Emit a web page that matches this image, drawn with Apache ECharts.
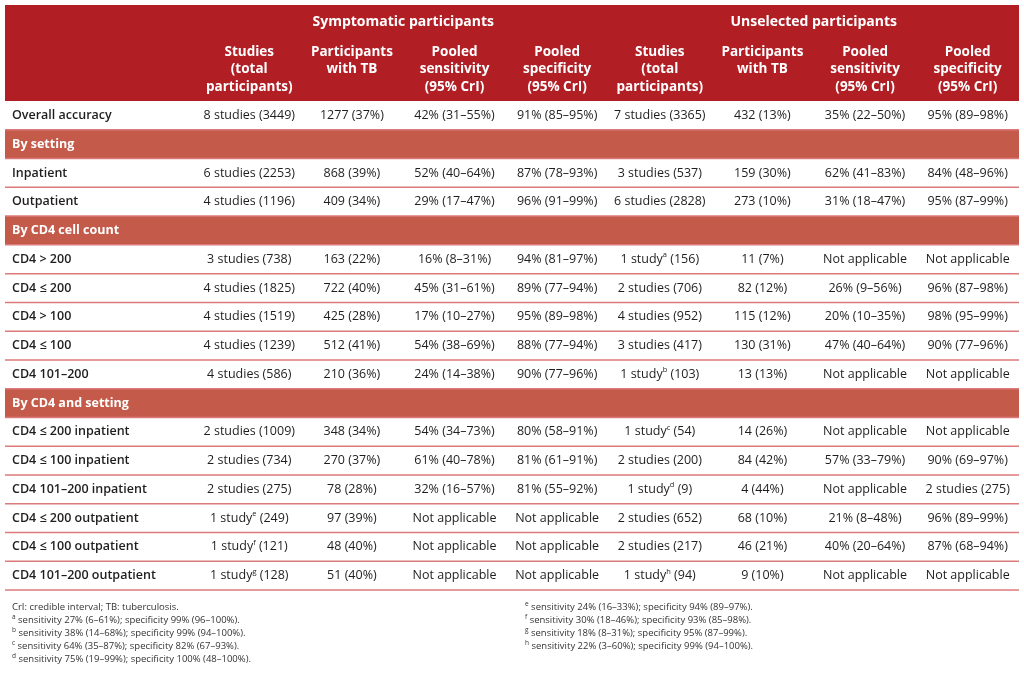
<!DOCTYPE html>
<html><head><meta charset="utf-8">
<script src="https://cdn.jsdelivr.net/npm/echarts@6/dist/echarts.min.js"></script>
<style>html,body{margin:0;padding:0;background:#fff}#c{width:1024px;height:674px}</style>
</head><body><div id="c"></div>
<script>
// ---------------- data ----------------
const groupHeaders = ['Symptomatic participants', 'Unselected participants'];
const columnHeaders = [
  'Studies\n(total\nparticipants)', 'Participants\nwith TB', 'Pooled\nsensitivity\n(95% CrI)', 'Pooled\nspecificity\n(95% CrI)',
  'Studies\n(total\nparticipants)', 'Participants\nwith TB', 'Pooled\nsensitivity\n(95% CrI)', 'Pooled\nspecificity\n(95% CrI)'
];
const rowLabels = [
  'Overall accuracy', 'By setting', 'Inpatient', 'Outpatient', 'By CD4 cell count',
  'CD4 > 200', 'CD4 ≤ 200', 'CD4 > 100', 'CD4 ≤ 100', 'CD4 101–200', 'By CD4 and setting',
  'CD4 ≤ 200 inpatient', 'CD4 ≤ 100 inpatient', 'CD4 101–200 inpatient',
  'CD4 ≤ 200 outpatient', 'CD4 ≤ 100 outpatient', 'CD4 101–200 outpatient'
];
const sectionRows = ['By setting', 'By CD4 cell count', 'By CD4 and setting'];
const NA = 'Not applicable';
const symStudies = ['8 studies (3449)', null, '6 studies (2253)', '4 studies (1196)', null, '3 studies (738)', '4 studies (1825)', '4 studies (1519)', '4 studies (1239)', '4 studies (586)', null, '2 studies (1009)', '2 studies (734)', '2 studies (275)', '1 study^e (249)', '1 study^f (121)', '1 study^g (128)'];
const symTB = ['1277 (37%)', null, '868 (39%)', '409 (34%)', null, '163 (22%)', '722 (40%)', '425 (28%)', '512 (41%)', '210 (36%)', null, '348 (34%)', '270 (37%)', '78 (28%)', '97 (39%)', '48 (40%)', '51 (40%)'];
const symSens = ['42% (31–55%)', null, '52% (40–64%)', '29% (17–47%)', null, '16% (8–31%)', '45% (31–61%)', '17% (10–27%)', '54% (38–69%)', '24% (14–38%)', null, '54% (34–73%)', '61% (40–78%)', '32% (16–57%)', NA, NA, NA];
const symSpec = ['91% (85–95%)', null, '87% (78–93%)', '96% (91–99%)', null, '94% (81–97%)', '89% (77–94%)', '95% (89–98%)', '88% (77–94%)', '90% (77–96%)', null, '80% (58–91%)', '81% (61–91%)', '81% (55–92%)', NA, NA, NA];
const unStudies = ['7 studies (3365)', null, '3 studies (537)', '6 studies (2828)', null, '1 study^a (156)', '2 studies (706)', '4 studies (952)', '3 studies (417)', '1 study^b (103)', null, '1 study^c (54)', '2 studies (200)', '1 study^d (9)', '2 studies (652)', '2 studies (217)', '1 study^h (94)'];
const unTB = ['432 (13%)', null, '159 (30%)', '273 (10%)', null, '11 (7%)', '82 (12%)', '115 (12%)', '130 (31%)', '13 (13%)', null, '14 (26%)', '84 (42%)', '4 (44%)', '68 (10%)', '46 (21%)', '9 (10%)'];
const unSens = ['35% (22–50%)', null, '62% (41–83%)', '31% (18–47%)', null, NA, '26% (9–56%)', '20% (10–35%)', '47% (40–64%)', NA, null, NA, '57% (33–79%)', NA, '21% (8–48%)', '40% (20–64%)', NA];
const unSpec = ['95% (89–98%)', null, '84% (48–96%)', '95% (87–99%)', null, NA, '96% (87–98%)', '98% (95–99%)', '90% (77–96%)', NA, null, NA, '90% (69–97%)', '2 studies (275)', '96% (89–99%)', '87% (68–94%)', NA];
const footnotesLeft = [
  'CrI: credible interval; TB: tuberculosis.',
  '^a sensitivity 27% (6–61%); specificity 99% (96–100%).',
  '^b sensitivity 38% (14–68%); specificity 99% (94–100%).',
  '^c sensitivity 64% (35–87%); specificity 82% (67–93%).',
  '^d sensitivity 75% (19–99%); specificity 100% (48–100%).'
];
const footnotesRight = [
  '^e sensitivity 24% (16–33%); specificity 94% (89–97%).',
  '^f sensitivity 30% (18–46%); specificity 93% (85–98%).',
  '^g sensitivity 18% (8–31%); specificity 95% (87–99%).',
  '^h sensitivity 22% (3–60%); specificity 99% (94–100%).'
];

// ---------------- layout / style ----------------
const FONT = "'Open Sans', 'Noto Sans', sans-serif";
const C_HEAD = '#B11F25';
const C_SECT = '#C45B4A';
const C_LINE = '#DC7A7B';
const C_TEXT = '#1E1E1E';
const FIRST_COL = 1.88;          // width of label column in column units
const N_COLS = 8;
const HEADER_H = 3.34;           // header height in row units
const N_ROWS = rowLabels.length;
const X_MAX = FIRST_COL + N_COLS;
const Y_MAX = HEADER_H + N_ROWS;
const LABEL_PAD = 7;
const GROUP_Y = 0.59;
const COLHEAD_TOP = 1.33;

const sup = s => s.replace(/\^(\w)/g, '{sup|$1}');
const columns = [symStudies, symTB, symSens, symSpec, unStudies, unTB, unSens, unSpec];

// cell list
const cells = [];
rowLabels.forEach((lab, r) => {
  const isSection = sectionRows.includes(lab);
  cells.push({ value: [0, r], text: lab, kind: isSection ? 'section' : 'label' });
  if (!isSection) columns.forEach((col, ci) => {
    if (col[r] != null) cells.push({ value: [ci + 1, r], text: sup(col[r]), kind: 'data' });
  });
});
const bandRows = rowLabels.map((l, r) => sectionRows.includes(l) ? r : null).filter(v => v !== null);
const lineRows = rowLabels.map((l, r) => r);
const headerItems = [];
groupHeaders.forEach((g, i) => headerItems.push({ value: [FIRST_COL + 2 + 4 * i, GROUP_Y], text: g, kind: 'group' }));
columnHeaders.forEach((h, i) => headerItems.push({ value: [FIRST_COL + i + 0.5, COLHEAD_TOP], text: h, kind: 'col' }));

const chart = echarts.init(document.getElementById('c'), null, { renderer: 'canvas' });
chart.setOption({
  backgroundColor: '#fff',
  animation: false,
  grid: { left: 5, right: 5, top: 5, bottom: 84 },
  xAxis: { type: 'value', min: 0, max: X_MAX, show: false },
  yAxis: { type: 'value', min: 0, max: Y_MAX, inverse: true, show: false },
  series: [
    { // header background
      type: 'custom', silent: true, data: [[0]],
      renderItem: (p, api) => {
        const a = api.coord([0, 0]), b = api.coord([X_MAX, HEADER_H]);
        return { type: 'rect', shape: { x: a[0], y: a[1], width: b[0] - a[0], height: b[1] - a[1] }, style: { fill: C_HEAD } };
      }
    },
    { // section bands
      type: 'custom', silent: true, data: bandRows.map(r => [r]),
      renderItem: (p, api) => {
        const r = api.value(0);
        const a = api.coord([0, HEADER_H + r]), b = api.coord([X_MAX, HEADER_H + r + 1]);
        return { type: 'rect', shape: { x: a[0], y: a[1], width: b[0] - a[0], height: b[1] - a[1] }, style: { fill: C_SECT } };
      }
    },
    { // row separators
      type: 'custom', silent: true, data: lineRows.map(r => [r]),
      renderItem: (p, api) => {
        const r = api.value(0);
        const a = api.coord([0, HEADER_H + r + 1]), b = api.coord([X_MAX, HEADER_H + r + 1]);
        return { type: 'line', shape: { x1: a[0], y1: a[1], x2: b[0], y2: b[1] }, style: { stroke: C_LINE, lineWidth: 1.5 } };
      }
    },
    { // header texts
      type: 'custom', silent: true, data: headerItems,
      renderItem: (p, api) => {
        const it = headerItems[p.dataIndex];
        const pt = api.coord([api.value(0), api.value(1)]);
        return {
          type: 'text', x: pt[0], y: pt[1],
          style: {
            text: it.text, fill: '#fff', fontFamily: FONT, fontWeight: 'bold',
            fontSize: it.kind === 'group' ? 14 : 13.5, lineHeight: 17.5,
            align: 'center', verticalAlign: it.kind === 'group' ? 'middle' : 'top'
          }
        };
      }
    },
    { // body cells
      type: 'custom', silent: true, data: cells,
      renderItem: (p, api) => {
        const it = cells[p.dataIndex];
        const c = api.value(0), r = api.value(1);
        const y = api.coord([0, HEADER_H + r + 0.5])[1];
        let x, align = 'center', fill = C_TEXT, weight = 'normal', size = 12.5;
        if (c === 0) { x = api.coord([0, 0])[0] + LABEL_PAD; align = 'left'; weight = 600; }
        else x = api.coord([FIRST_COL + c - 0.5, 0])[0];
        if (it.kind === 'section') { fill = '#fff'; weight = 'bold'; size = 12.5; }
        return {
          type: 'text', x: x, y: y,
          style: {
            text: it.text, fill: fill, fontFamily: FONT, fontWeight: weight, fontSize: size,
            lineHeight: 16, align: align, verticalAlign: 'middle',
            rich: { sup: { fontSize: 7.5, lineHeight: 11, verticalAlign: 'top', fill: fill, fontFamily: FONT } }
          }
        };
      }
    }
  ],
  graphic: [
    {
      type: 'text', left: 12, top: 601,
      style: {
        text: footnotesLeft.map(sup).join('\n'), fill: '#333', fontFamily: FONT, fontSize: 9.5, lineHeight: 13,
        rich: { sup: { fontSize: 6.5, lineHeight: 9, verticalAlign: 'top', fill: '#333', fontFamily: FONT } }
      }
    },
    {
      type: 'text', left: 525, top: 601,
      style: {
        text: footnotesRight.map(sup).join('\n'), fill: '#333', fontFamily: FONT, fontSize: 9.5, lineHeight: 13,
        rich: { sup: { fontSize: 6.5, lineHeight: 9, verticalAlign: 'top', fill: '#333', fontFamily: FONT } }
      }
    }
  ]
});
</script>
</body></html>
